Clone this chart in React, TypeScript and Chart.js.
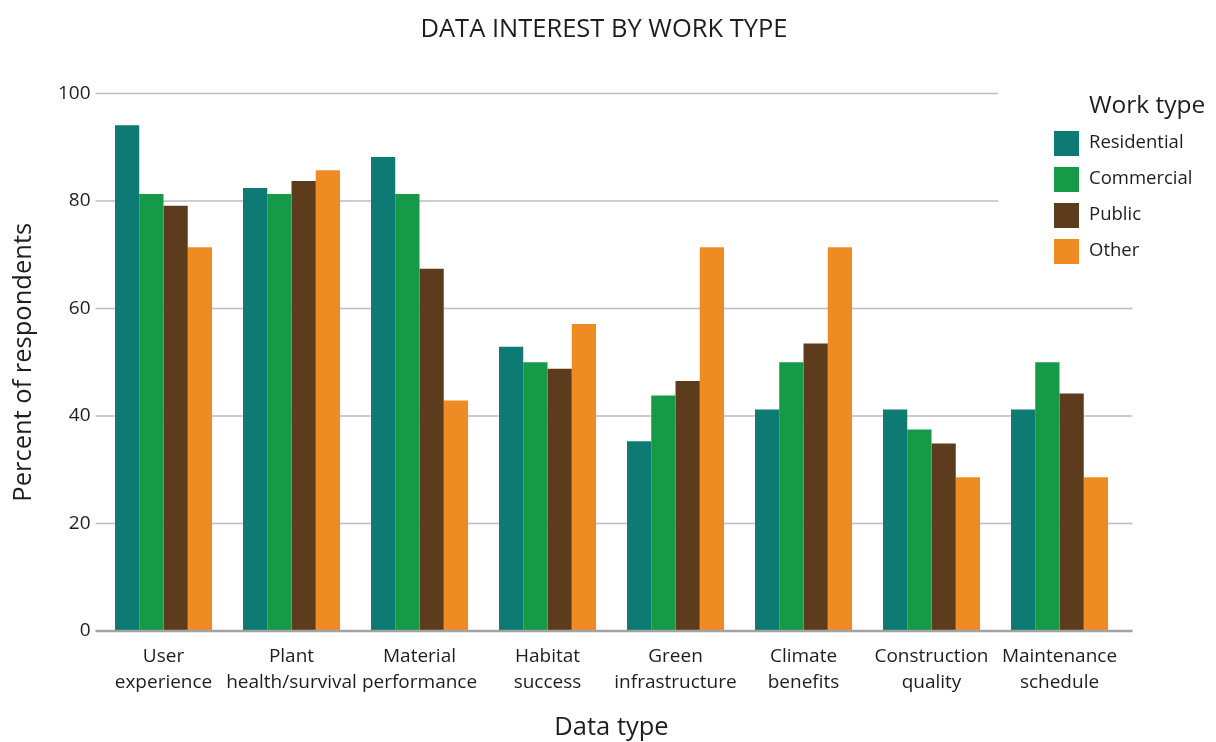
import React, { useEffect, useRef } from "react";
import { Chart, registerables } from "chart.js";

Chart.register(...registerables);

// Data types surveyed (two-line axis labels)
const categories: string[][] = [
  ["User", "experience"],
  ["Plant", "health/survival"],
  ["Material", "performance"],
  ["Habitat", "success"],
  ["Green", "infrastructure"],
  ["Climate", "benefits"],
  ["Construction", "quality"],
  ["Maintenance", "schedule"],
];

// Percent of respondents per work type
const residential = [94.1, 82.4, 88.2, 52.9, 35.3, 41.2, 41.2, 41.2];
const commercial = [81.3, 81.3, 81.3, 50.0, 43.8, 50.0, 37.5, 50.0];
const publicWork = [79.1, 83.7, 67.4, 48.8, 46.5, 53.5, 34.9, 44.2];
const other = [71.4, 85.7, 42.9, 57.1, 71.4, 71.4, 28.6, 28.6];

const seriesNames = ["Residential", "Commercial", "Public", "Other"];
const seriesColors = ["#0d7a74", "#169a48", "#5d3c1e", "#ef8b23"];

const chartTitle = "DATA INTEREST BY WORK TYPE";
const legendTitle = "Work type";

const yMin = 0;
const yMax = 100;
const yStep = 20;

const FONT = "'Open Sans', 'DejaVu Sans', sans-serif";
const TEXT = "#1e1e1e";

// Chart heading, centred on the page width
const headingPlugin = {
  id: "heading",
  afterDraw(chart: any) {
    const { ctx } = chart;
    ctx.save();
    ctx.fillStyle = TEXT;
    ctx.font = `25.5px ${FONT}`;
    ctx.textAlign = "center";
    ctx.textBaseline = "middle";
    ctx.fillText(chartTitle, 604, 30);
    ctx.restore();
  },
};

// Horizontal gridlines and the baseline, slightly wider than the plot area
const gridPlugin = {
  id: "wideGrid",
  beforeDatasetsDraw(chart: any) {
    const { ctx, chartArea, scales } = chart;
    const y = scales.y;
    ctx.save();
    ctx.strokeStyle = "#bdbdbd";
    ctx.lineWidth = 1.3;
    y.ticks.forEach((t: any) => {
      if (t.value === yMin) return;
      const py = y.getPixelForValue(t.value);
      ctx.beginPath();
      ctx.moveTo(chartArea.left - 4, py);
      ctx.lineTo(chartArea.right + 9, py);
      ctx.stroke();
    });
    ctx.restore();
  },
  afterDatasetsDraw(chart: any) {
    const { ctx, chartArea, scales } = chart;
    const py = scales.y.getPixelForValue(yMin);
    ctx.save();
    ctx.strokeStyle = "#a3a3a3";
    ctx.lineWidth = 2.5;
    ctx.beginPath();
    ctx.moveTo(chartArea.left - 4, py);
    ctx.lineTo(chartArea.right + 9, py);
    ctx.stroke();
    ctx.restore();
  },
};

// Legend with its own title, drawn on a white panel at the upper right
const legendPlugin = {
  id: "workTypeLegend",
  afterDraw(chart: any) {
    const { ctx } = chart;
    ctx.save();
    ctx.fillStyle = "#ffffff";
    ctx.fillRect(998, 82, 218, 190);
    ctx.fillStyle = TEXT;
    ctx.textBaseline = "middle";
    ctx.textAlign = "left";
    ctx.font = `24.5px ${FONT}`;
    ctx.fillText(legendTitle, 1089, 106);
    ctx.font = `18.5px ${FONT}`;
    chart.data.datasets.forEach((ds: any, i: number) => {
      const top = 131 + i * 36;
      ctx.fillStyle = ds.backgroundColor;
      ctx.fillRect(1054, top, 25, 25);
      ctx.fillStyle = TEXT;
      ctx.fillText(ds.label, 1089, top + 12);
    });
    ctx.restore();
  },
};

export default function App() {
  const canvasRef = useRef<HTMLCanvasElement | null>(null);

  useEffect(() => {
    if (!canvasRef.current) return;
    const series = [residential, commercial, publicWork, other];
    const chart = new Chart(canvasRef.current, {
      type: "bar",
      data: {
        labels: categories,
        datasets: series.map((values, i) => ({
          label: seriesNames[i],
          data: values,
          backgroundColor: seriesColors[i],
          borderWidth: 0,
          categoryPercentage: 0.758,
          barPercentage: 1,
        })),
      },
      options: {
        animation: false,
        responsive: false,
        maintainAspectRatio: false,
        layout: { padding: { left: 0, right: 92.5, top: 93.5, bottom: 0 } },
        plugins: {
          legend: { display: false },
          tooltip: { enabled: false },
          title: { display: false },
        },
        scales: {
          x: {
            grid: { display: false, drawTicks: false },
            border: { display: false },
            ticks: {
              color: TEXT,
              padding: 13,
              maxRotation: 0,
              autoSkip: false,
              font: { family: FONT, size: 19, lineHeight: 26 / 19 },
            },
            title: {
              display: true,
              text: "Data type",
              color: TEXT,
              font: { family: FONT, size: 25.5, lineHeight: 1 },
              padding: { top: 6.25, bottom: 1.25 },
            },
          },
          y: {
            min: yMin,
            max: yMax,
            grid: { display: false, drawTicks: true, tickLength: 4 },
            border: { display: false },
            ticks: {
              stepSize: yStep,
              color: TEXT,
              padding: 5,
              font: { family: FONT, size: 19 },
            },
            afterFit(scale: any) {
              scale.width = 99.5;
            },
            title: {
              display: true,
              text: "Percent of respondents",
              color: TEXT,
              font: { family: FONT, size: 25.5, lineHeight: 1 },
              padding: { top: 11.25, bottom: 10 },
            },
          },
        },
      },
      plugins: [gridPlugin, legendPlugin, headingPlugin],
    });
    return () => chart.destroy();
  }, []);

  return (
    <div style={{ position: "fixed", left: 0, top: 0, width: 1216, height: 742, background: "#fff" }}>
      <canvas ref={canvasRef} width={1216} height={742} style={{ display: "block" }} />
    </div>
  );
}
